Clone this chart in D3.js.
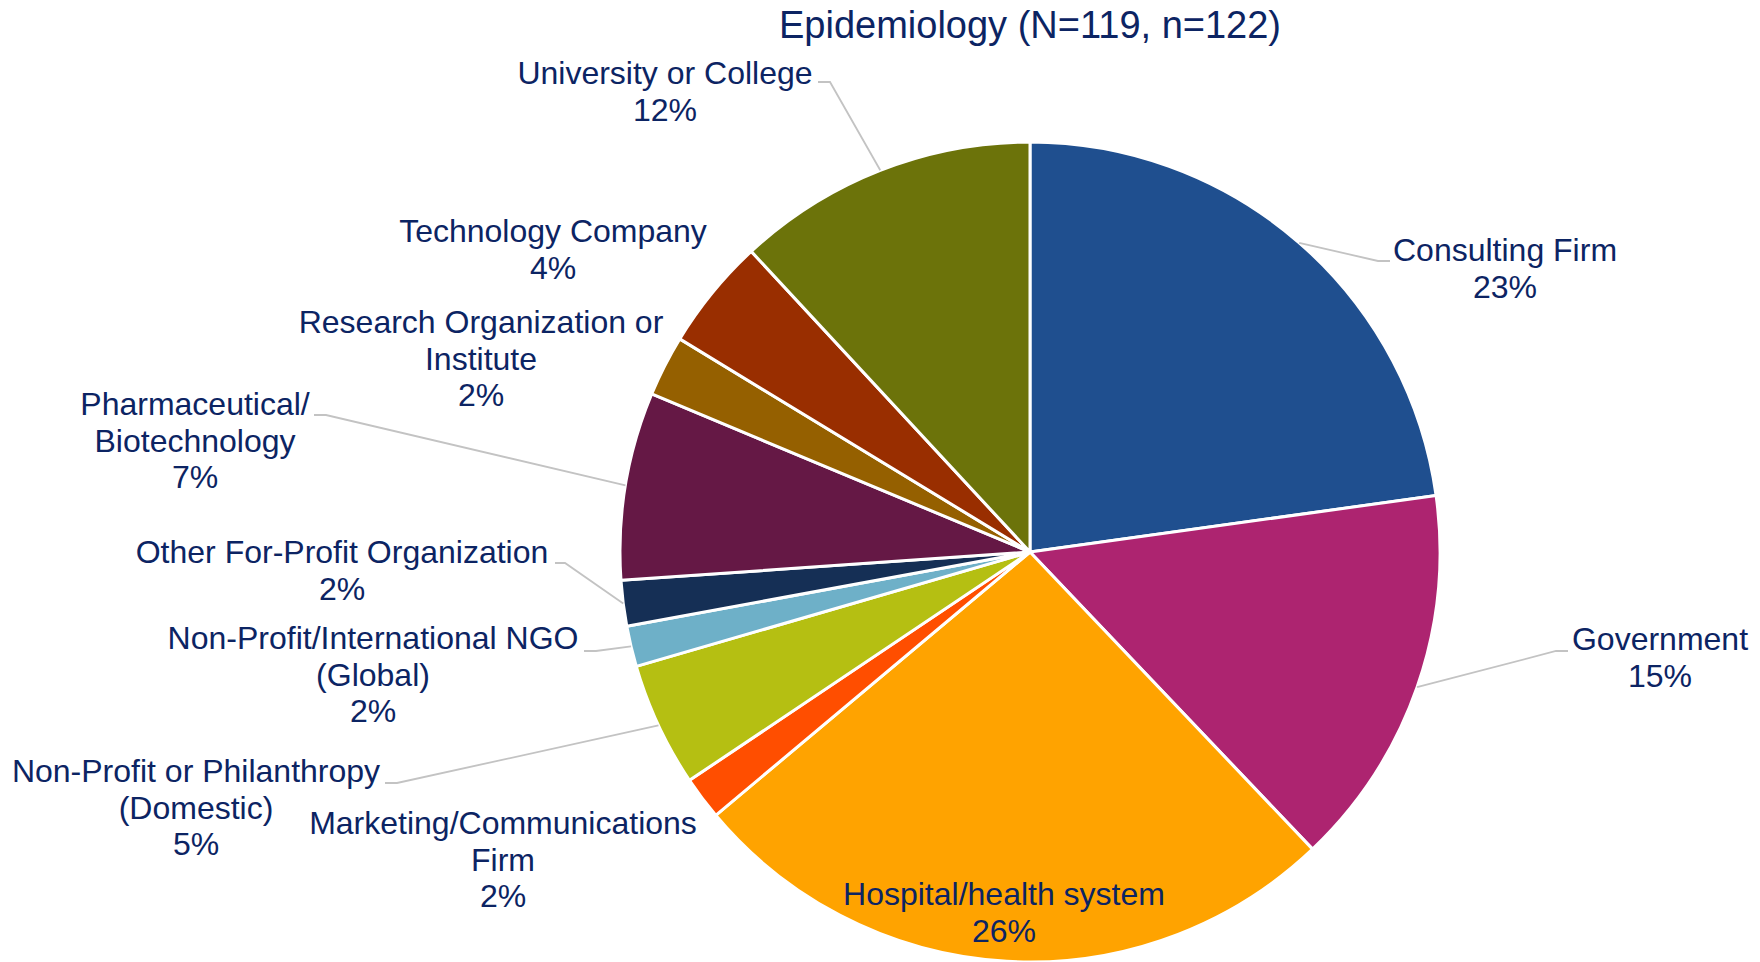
<!DOCTYPE html>
<html>
<head>
<meta charset="utf-8">
<script src="https://cdn.jsdelivr.net/npm/d3@7"></script>
<style>
  html, body { margin: 0; padding: 0; background: #fff; }
  svg { display: block; font-family: "Liberation Sans", Arial, sans-serif; }
</style>
</head>
<body>
<svg id="chart" width="1760" height="962"></svg>
<script>
const title = "Epidemiology (N=119, n=122)";

const categories = [
  "Consulting Firm",
  "Government",
  "Hospital/health system",
  "Marketing/Communications\nFirm",
  "Non-Profit or Philanthropy\n(Domestic)",
  "Non-Profit/International NGO\n(Global)",
  "Other For-Profit Organization",
  "Pharmaceutical/\nBiotechnology",
  "Research Organization or\nInstitute",
  "Technology Company",
  "University or College"
];

// share of responses (%)
const shares = [22.8, 15.1, 26.0, 1.7, 4.9, 1.6, 1.8, 7.4, 2.4, 4.4, 11.9];

const colors = [
  "#1f4f8f", "#ad2470", "#ffa300", "#ff4e00", "#b5bf12",
  "#6eb0c8", "#152f55", "#651845", "#956000", "#992e00", "#6c730a"
];

// where each label sits (center x, first baseline) and its leader elbow
const labelLayout = {
  "Consulting Firm": { x: 1505, y: 261, elbow: [1378, 261], end: 1390 },
  "Government": { x: 1660, y: 650, elbow: [1556, 651], end: 1568 },
  "Hospital/health system": { x: 1004, y: 905 },
  "Marketing/Communications\nFirm": { x: 503, y: 834 },
  "Non-Profit or Philanthropy\n(Domestic)": { x: 196, y: 782, elbow: [397, 783], end: 385 },
  "Non-Profit/International NGO\n(Global)": { x: 373, y: 649, elbow: [596, 651], end: 584 },
  "Other For-Profit Organization": { x: 342, y: 563, elbow: [565, 563], end: 555 },
  "Pharmaceutical/\nBiotechnology": { x: 195, y: 415, elbow: [326, 415], end: 314 },
  "Research Organization or\nInstitute": { x: 481, y: 333 },
  "Technology Company": { x: 553, y: 242 },
  "University or College": { x: 665, y: 84, elbow: [830, 82], end: 818 }
};

const cx = 1030, cy = 552, radius = 410;
const lineH = 36.5;
const textColor = "#0c2463";

const svg = d3.select("#chart");

svg.append("text")
  .attr("x", cx)
  .attr("y", 38)
  .attr("text-anchor", "middle")
  .attr("font-size", 38)
  .attr("fill", textColor)
  .text(title);

const total = d3.sum(shares);
const fmt = d3.format(".0%");

const data = categories.map((c, i) => ({ name: c, value: shares[i], color: colors[i] }));

const pie = d3.pie()
  .sort(null)
  .value(d => d.value);

const arcs = pie(data);

const arc = d3.arc().innerRadius(0).outerRadius(radius);
const edge = d3.arc().innerRadius(radius).outerRadius(radius);

const g = svg.append("g").attr("transform", `translate(${cx},${cy})`);

g.selectAll("path.slice")
  .data(arcs)
  .enter()
  .append("path")
  .attr("class", "slice")
  .attr("d", arc)
  .attr("fill", d => d.data.color)
  .attr("stroke", "#fff")
  .attr("stroke-width", 3)
  .attr("stroke-linejoin", "round");

// leader lines: from the slice edge to an elbow, then a short flat run to the text
const withLeader = arcs.filter(d => labelLayout[d.data.name].elbow);

svg.selectAll("polyline.leader")
  .data(withLeader)
  .enter()
  .append("polyline")
  .attr("class", "leader")
  .attr("fill", "none")
  .attr("stroke", "#c3c3c3")
  .attr("stroke-width", 1.8)
  .attr("points", d => {
    const L = labelLayout[d.data.name];
    const [sx, sy] = edge.centroid(d);
    return [[cx + sx, cy + sy], L.elbow, [L.end, L.elbow[1]]].map(p => p.join(",")).join(" ");
  });

const labels = svg.selectAll("text.lbl")
  .data(arcs)
  .enter()
  .append("text")
  .attr("class", "lbl")
  .attr("text-anchor", "middle")
  .attr("font-size", 32)
  .attr("fill", textColor);

labels.each(function (d) {
  const L = labelLayout[d.data.name];
  const lines = d.data.name.split("\n").concat(fmt(d.data.value / total));
  d3.select(this).selectAll("tspan")
    .data(lines)
    .enter()
    .append("tspan")
    .attr("x", L.x)
    .attr("y", (t, i) => L.y + i * lineH)
    .text(t => t);
});
</script>
</body>
</html>
